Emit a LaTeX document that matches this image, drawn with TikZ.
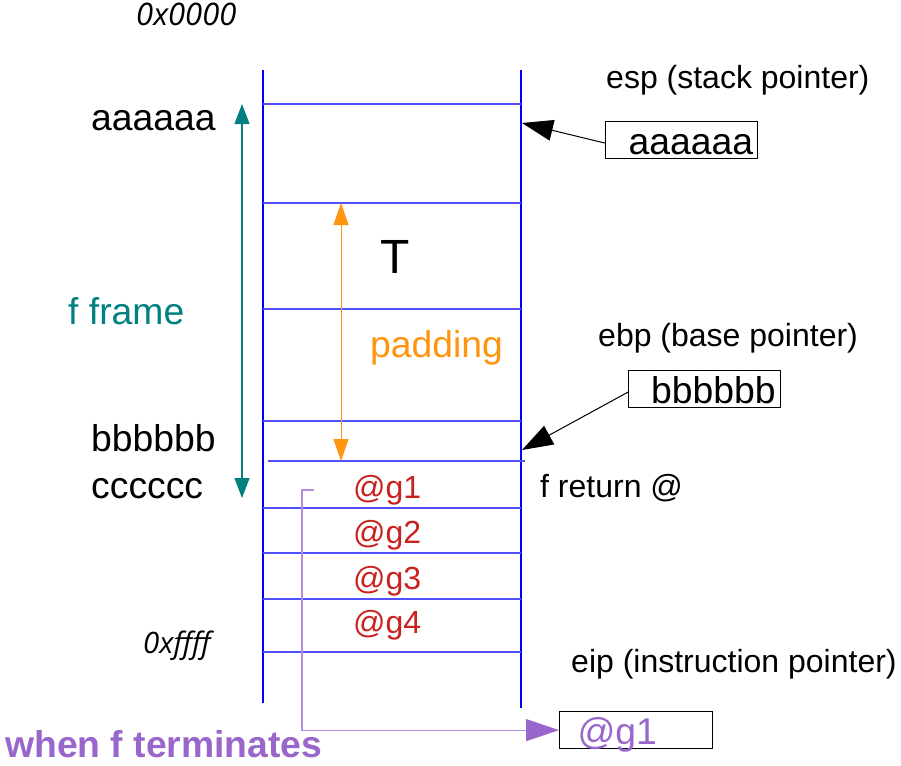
\documentclass[tikz,border=0pt]{standalone}
\usepackage{fontspec}
\setmainfont{Liberation Sans}
\newfontfamily\itfont{Open Sans}
\usetikzlibrary{arrows.meta}
\definecolor{stackblue}{RGB}{0,0,255}
\definecolor{rowblue}{RGB}{80,80,255}
\definecolor{tealc}{RGB}{0,128,128}
\definecolor{orangec}{RGB}{255,149,14}
\definecolor{redc}{RGB}{201,33,30}
\definecolor{purplec}{RGB}{153,102,204}
\definecolor{purplel}{RGB}{180,140,225}
\tikzset{
  big/.style={font=\fontsize{37.3}{40}\selectfont, inner sep=0pt, anchor=base west},
  small/.style={font=\fontsize{32}{36}\selectfont, inner sep=0pt, anchor=base west},
  addr/.style={font=\itfont\itshape\fontsize{29.5}{32}\selectfont, inner sep=0pt, anchor=base west},
  frameline/.style={stackblue, line width=1.4pt},
  rowline/.style={rowblue, line width=1.4pt},
  valbox/.style={draw=black, line width=1.2pt, inner sep=0pt, minimum width=152pt, minimum height=37pt, text height=29pt, text depth=0pt, anchor=north west, font=\fontsize{37.3}{40}\selectfont},
  blkarrow/.style={black, line width=1pt, -{Triangle[length=31pt,width=21pt]}},
}
\begin{document}
\begin{tikzpicture}[x=1pt,y=-1pt]
\useasboundingbox (0,0) rectangle (901,765);
% stack frame
\draw[frameline] (263,70) -- (263,703);
\draw[frameline] (521,70) -- (521,708);
\foreach \yy in {104,203,309,421,508,553,599,652}
  \draw[rowline] (263,\yy) -- (521,\yy);
\draw[rowline] (268,461) -- (525,461);
% left labels
\node[addr, font=\itfont\itshape\fontsize{31}{34}\selectfont] (lowaddr) at (136,26) {0x0000};
\node[big] (la) at (91,130) {aaaaaa};
\node[big, text=tealc] (fframe) at (68,324) {f frame};
\node[big] (lb) at (91,451) {bbbbbb};
\node[big] (lc) at (91,498) {cccccc};
\node[addr] (highaddr) at (143,653) {0xffff};
\node[big, font=\bfseries\fontsize{37.3}{40}\selectfont, text=purplec] (whenf) at (5,757) {when f terminates};
% inner labels
\node[font=\fontsize{48}{52}\selectfont, inner sep=0pt, anchor=base west] (T) at (380,273) {T};
\node[big, text=orangec] (padding) at (370,357) {padding};
\node[small, text=redc] (g1) at (353,498) {@g1};
\node[small, text=redc] (g2) at (353,543) {@g2};
\node[small, text=redc] (g3) at (353,589) {@g3};
\node[small, text=redc] (g4) at (353,633) {@g4};
% right labels
\node[small] (esp) at (606,89) {esp (stack pointer)};
\node[small] (ebp) at (598,346) {ebp (base pointer)};
\node[small] (fret) at (540,497) {f return @};
\node[small] (eip) at (571,672) {eip (instruction pointer)};
% boxes
\node[valbox] (boxa) at (605,121) {\makebox[152pt][l]{\hspace*{23pt}aaaaaa}};
\node[valbox] (boxb) at (628,370) {\makebox[151pt][l]{\hspace*{22pt}bbbbbb}};
\node[valbox, text=purplec] (boxg) at (559,711) {\makebox[153pt][l]{\hspace*{18pt}@g1}};
% range arrows
\coordinate (ftop) at (242,104);
\coordinate (fbot) at (242,498);
\draw[tealc, line width=1.2pt, {Triangle[length=20pt,width=15pt]}-{Triangle[length=20pt,width=15pt]}] (ftop) -- (fbot);
\coordinate (ptop) at (341,203);
\coordinate (pbot) at (341,461);
\draw[orangec, line width=1pt, {Triangle[length=22pt,width=15pt]}-{Triangle[length=22pt,width=15pt]}] (ptop) -- (pbot);
% pointer arrows
\coordinate (tipa) at (522,123);
\coordinate (tipb) at (522,450);
\draw[blkarrow] ([yshift=-3pt]boxa.west) -- (tipa);
\draw[blkarrow] ([yshift=-3pt]boxb.west) -- (tipb);
% return connector
\coordinate (rstart) at (314,490);
\coordinate (rturn) at (302,490);
\draw[purplel, line width=1.2pt, -{Triangle[length=33pt,width=22pt,color=purplec]}] (rstart) -- (rturn) |- (boxg.west);
\end{tikzpicture}
\end{document}
